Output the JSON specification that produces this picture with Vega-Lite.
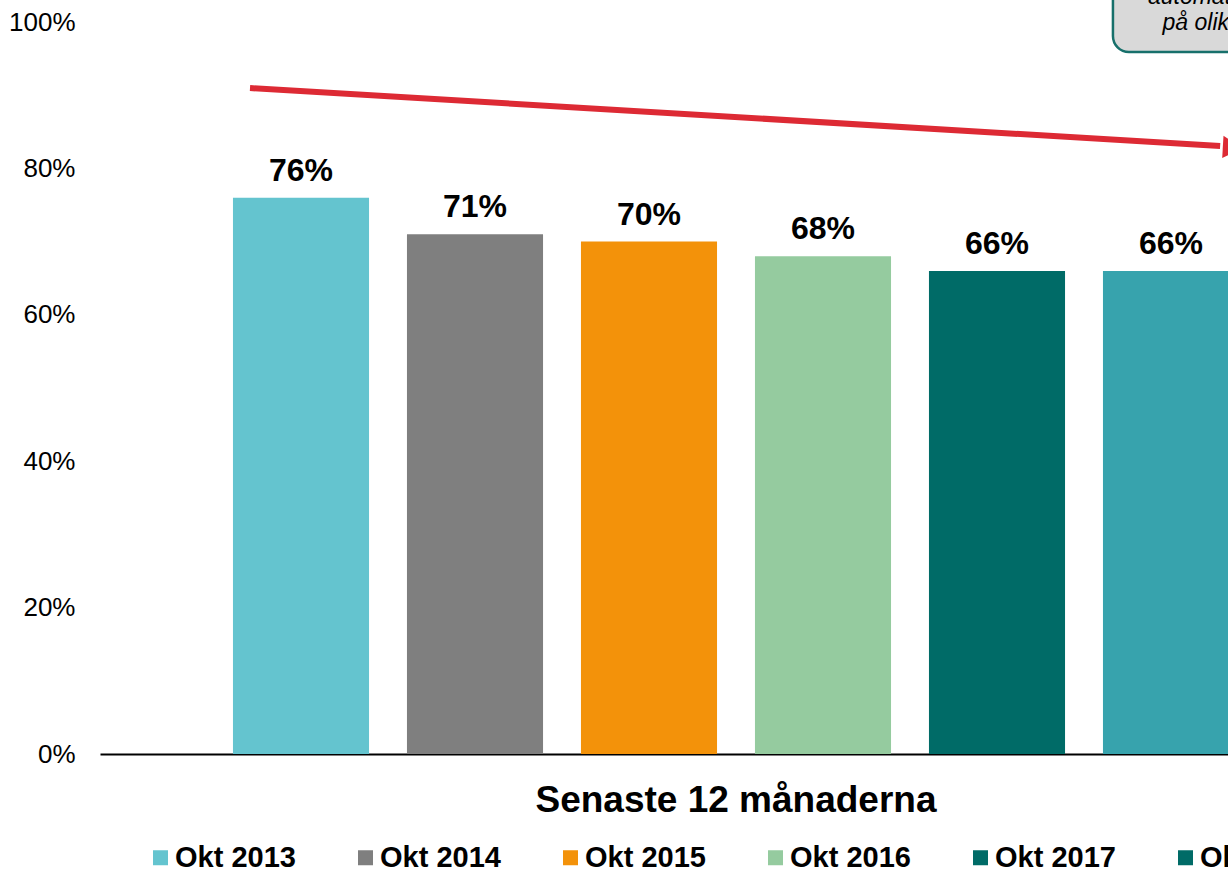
{
  "$schema": "https://vega.github.io/schema/vega-lite/v6.json",
  "width": 1128,
  "height": 732,
  "autosize": {"type": "none"},
  "padding": {"left": 100, "top": 22, "right": 0, "bottom": 115},
  "background": "white",
  "config": {"font": "Liberation Sans", "view": {"stroke": null}, "axis": {"grid": false}},
  "datasets": {
    "bars": [
      {"group": "Senaste 12 månaderna", "period": "Okt 2013", "value": 0.76},
      {"group": "Senaste 12 månaderna", "period": "Okt 2014", "value": 0.71},
      {"group": "Senaste 12 månaderna", "period": "Okt 2015", "value": 0.70},
      {"group": "Senaste 12 månaderna", "period": "Okt 2016", "value": 0.68},
      {"group": "Senaste 12 månaderna", "period": "Okt 2017", "value": 0.66},
      {"group": "Senaste 12 månaderna", "period": "Okt 2018", "value": 0.66}
    ],
    "arrow": [{"x": 13.3, "y": 0.9098, "x2": 99.3, "y2": 0.8306}],
    "head": [{"x": 100.4, "y": 0.8286}],
    "box": [{"x": 89.8, "x2": 112, "y": 0.959, "y2": 1.15}],
    "note": [
      {"x": 92.9, "y": 1.025, "text": "automatiskt"},
      {"x": 94.2, "y": 0.989, "text": "på olika"}
    ]
  },
  "layer": [
    {
      "data": {"name": "bars"},
      "encoding": {
        "x": {
          "field": "group", "type": "nominal",
          "scale": {"range": [0, 1272], "paddingInner": 0, "paddingOuter": 0.1092},
          "axis": {"title": null, "ticks": false, "labelFontSize": 37, "labelFontWeight": "bold", "labelColor": "#000", "labelPadding": 28, "domainColor": "#000", "domainWidth": 2, "labelLimit": 800, "labelAngle": 0}
        },
        "xOffset": {"field": "period", "type": "nominal", "scale": {"paddingInner": 0.218, "paddingOuter": 0.109}},
        "y": {
          "field": "value", "type": "quantitative", "stack": null,
          "scale": {"domain": [0, 1], "nice": false, "zero": true},
          "axis": {"values": [0, 0.2, 0.4, 0.6, 0.8, 1], "format": ".0%", "labelFontSize": 26, "labelColor": "#000", "domain": false, "ticks": false, "labelPadding": 25, "title": null, "grid": false}
        }
      },
      "layer": [
        {
          "mark": {"type": "bar"},
          "encoding": {
            "color": {
              "field": "period", "type": "nominal",
              "scale": {
                "domain": ["Okt 2013", "Okt 2014", "Okt 2015", "Okt 2016", "Okt 2017", "Okt 2018"],
                "range": ["#64C4CF", "#7F7F7F", "#F3920A", "#95CB9F", "#006B67", "#37A3AD"]
              },
              "legend": null
            }
          }
        },
        {
          "mark": {"type": "text", "baseline": "alphabetic", "dy": -17, "fontSize": 32, "fontWeight": "bold", "color": "#000"},
          "encoding": {"text": {"field": "value", "type": "quantitative", "format": ".0%"}}
        },
        {
          "mark": {"type": "text"},
          "encoding": {
            "text": {"value": ""},
            "color": {
              "field": "period", "type": "nominal",
              "scale": {
                "domain": ["Okt 2013", "Okt 2014", "Okt 2015", "Okt 2016", "Okt 2017", "Okt 2018"],
                "range": ["#64C4CF", "#7F7F7F", "#F3920A", "#95CB9F", "#006B67", "#006B67"]
              },
              "legend": {
                "orient": "none", "legendX": 46, "legendY": 821, "direction": "horizontal", "columns": 6,
                "title": null, "symbolType": "square", "symbolSize": 225, "symbolStrokeWidth": 0, "symbolOpacity": 1,
                "labelFontSize": 29, "labelFontWeight": "bold", "labelColor": "#000", "labelLimit": 400,
                "labelOffset": 0, "columnPadding": 55
              }
            }
          }
        }
      ],
      "resolve": {"scale": {"color": "independent"}}
    },
    {
      "layer": [
        {
          "data": {"name": "box"},
          "mark": {"type": "rect", "fill": "#D9D9D9", "stroke": "#17706B", "strokeWidth": 2.5, "cornerRadius": 16},
          "encoding": {
            "x": {"field": "x", "type": "quantitative", "scale": {"domain": [0, 100]}, "axis": null},
            "x2": {"field": "x2"},
            "y": {"field": "y", "type": "quantitative", "scale": {"domain": [0, 1], "nice": false}},
            "y2": {"field": "y2"}
          }
        },
        {
          "data": {"name": "note"},
          "mark": {"type": "text", "align": "left", "baseline": "alphabetic", "fontSize": 23, "fontStyle": "italic", "color": "#000"},
          "encoding": {
            "x": {"field": "x", "type": "quantitative", "scale": {"domain": [0, 100]}, "axis": null},
            "y": {"field": "y", "type": "quantitative", "scale": {"domain": [0, 1], "nice": false}},
            "text": {"field": "text"}
          }
        },
        {
          "data": {"name": "arrow"},
          "mark": {"type": "rule", "color": "#DD2A34", "strokeWidth": 6},
          "encoding": {
            "x": {"field": "x", "type": "quantitative", "scale": {"domain": [0, 100]}, "axis": null},
            "x2": {"field": "x2"},
            "y": {"field": "y", "type": "quantitative", "scale": {"domain": [0, 1], "nice": false}},
            "y2": {"field": "y2"}
          }
        },
        {
          "data": {"name": "head"},
          "mark": {"type": "point", "shape": "triangle-right", "filled": true, "color": "#DD2A34", "size": 500, "opacity": 1, "angle": 3.4},
          "encoding": {
            "x": {"field": "x", "type": "quantitative", "scale": {"domain": [0, 100]}, "axis": null},
            "y": {"field": "y", "type": "quantitative", "scale": {"domain": [0, 1], "nice": false}}
          }
        }
      ]
    }
  ],
  "resolve": {"scale": {"x": "independent"}, "axis": {"x": "independent"}}
}
